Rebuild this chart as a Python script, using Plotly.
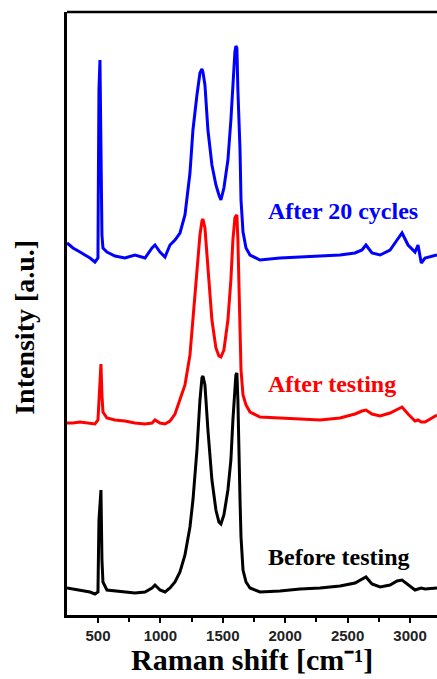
import plotly.graph_objects as go

# Raman shift axis (cm^-1), shared by the three spectra
raman_shift = [252, 300, 356, 436, 476, 500, 504, 508, 516, 524, 532, 540, 572, 636, 716, 796,
               877, 933, 957, 997, 1037, 1077, 1117, 1157, 1197, 1237, 1261, 1293, 1317, 1333,
               1341, 1357, 1381, 1413, 1445, 1469, 1485, 1509, 1541, 1565, 1581, 1597, 1605,
               1613, 1621, 1638, 1646, 1662, 1686, 1718, 1798, 1958, 2119, 2279, 2439, 2559,
               2615, 2647, 2695, 2760, 2840, 2896, 2936, 2984, 3040, 3064, 3090, 3120, 3216]

# Stacked intensities (a.u.)
before_testing = [27, 26, 25, 23, 21, 23, 60, 95, 110, 125, 55, 33, 25, 24, 23, 22,
                  23, 27, 30, 25, 23, 27, 33, 43, 60, 88, 115, 165, 215, 237,
                  239, 230, 185, 135, 105, 93, 91, 100, 125, 155, 195, 235, 240,
                  242, 215, 115, 78, 45, 33, 27, 23, 24, 26, 27, 29, 32,
                  36, 38, 31, 28, 30, 34, 35, 30, 25, 26, 27, 26, 27]

after_testing = [192, 192, 193, 192, 191, 195, 205, 220, 245, 251, 220, 203, 197, 195, 194, 192,
                 191, 192, 195, 192, 191, 194, 201, 215, 230, 260, 295, 345, 380, 394,
                 396, 387, 345, 295, 267, 259, 258, 265, 295, 335, 375, 397, 399,
                 400, 375, 295, 245, 220, 210, 203, 198, 197, 196, 195, 197, 201,
                 204, 205, 201, 199, 202, 206, 208, 201, 194, 195, 193, 193, 200]

after_20_cycles = [372, 367, 363, 357, 353, 357, 450, 525, 555, 465, 380, 367, 363, 359, 357, 360,
                   357, 367, 370, 363, 358, 370, 375, 382, 400, 442, 485, 520, 542, 546,
                   543, 530, 485, 450, 430, 420, 415, 427, 455, 495, 535, 563, 569,
                   567, 525, 465, 415, 383, 367, 360, 355, 357, 358, 359, 360, 362,
                   365, 370, 362, 360, 365, 375, 382, 370, 363, 370, 352, 357, 360]

series = [
    ("Before testing", before_testing, "#000000"),
    ("After testing", after_testing, "#ff0000"),
    ("After 20 cycles", after_20_cycles, "#0000ff"),
]

# Label placement: (x in cm^-1, y in a.u.)
label_pos = {"Before testing": (1850, 58), "After testing": (1850, 231), "After 20 cycles": (1850, 404)}

x_ticks = [500, 1000, 1500, 2000, 2500, 3000]

fig = go.Figure()
for name, values, color in series:
    fig.add_trace(go.Scatter(x=raman_shift, y=values, mode="lines", name=name,
                             line=dict(color=color, width=3)))
    lx, ly = label_pos[name]
    fig.add_annotation(x=lx, y=ly, xref="x", yref="y", text=name, showarrow=False,
                       xanchor="left", yanchor="middle",
                       font=dict(family="Liberation Serif", size=24, color=color, weight="bold"))

fig.update_layout(
    width=437, height=679,
    margin=dict(l=67, r=0, t=12, b=64),
    paper_bgcolor="white", plot_bgcolor="white",
    showlegend=False,
    xaxis=dict(range=[252, 3216], tickvals=x_ticks, ticks="outside", ticklen=5, tickwidth=2,
               tickcolor="black", showline=True, linewidth=2.5, linecolor="black",
               showgrid=False, zeroline=False,
               minor=dict(tickvals=[750, 1250, 1750, 2250, 2750], ticks="outside", ticklen=4,
                          tickwidth=2, tickcolor="black"),
               tickfont=dict(family="Liberation Sans", size=15, color="#222", weight="bold")),
    yaxis=dict(range=[0, 603], showticklabels=False, ticks="", showline=True, linewidth=2.5,
               linecolor="black", showgrid=False, zeroline=False),
)

# Top border of the frame
fig.add_shape(type="line", xref="paper", yref="paper", x0=0, x1=1, y0=1, y1=1,
              line=dict(color="black", width=2.5))

fig.add_annotation(text="Raman shift [cm⁻¹]", xref="paper", yref="paper",
                   x=0.5, y=-0.0745, xanchor="center", yanchor="middle", showarrow=False,
                   borderpad=0,
                   font=dict(family="Liberation Serif", size=30, color="black", weight="bold"))
fig.add_annotation(text="Intensity [a.u.]", xref="paper", yref="paper", textangle=-90,
                   x=-0.115, y=0.477, xanchor="center", yanchor="middle", showarrow=False,
                   font=dict(family="Liberation Serif", size=28, color="black", weight="bold"))

fig.write_html("out.html")
